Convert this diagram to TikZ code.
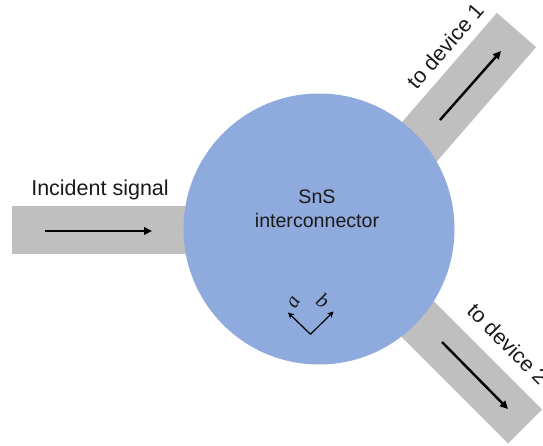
\documentclass[tikz,border=0pt]{standalone}
\usepackage{fontspec}
\setmainfont{Liberation Sans}
\newfontfamily\abfont{Liberation Serif}
\usetikzlibrary{arrows.meta}
\definecolor{bluec}{HTML}{8FAADC}
\definecolor{barg}{HTML}{BFBFBF}
\definecolor{txt}{HTML}{1A1A1A}
\begin{document}
\begin{tikzpicture}[x=1pt,y=-1pt,
  sig/.style={line width=2.4pt, black, -{Triangle[length=8pt,width=7.5pt]}},
  axis/.style={line width=1.2pt, black, -{Stealth[length=6pt,width=6pt]}},
  lbl/.style={font=\fontsize{21.5}{24}\selectfont, text=txt, inner sep=0pt},
  clbl/.style={font=\fontsize{19.6}{24}\selectfont, text=txt, inner sep=0pt},
  ablbl/.style={font=\abfont\itshape\fontsize{21}{21}\selectfont, text=txt, inner sep=0pt},
  bar/.style={fill=barg}]
\useasboundingbox (0,0) rectangle (543,446);
\clip (0,0) rectangle (543,446);
% bars (behind the circle)
\fill[bar] (12,206) rectangle (250,254);
\fill[bar] (496.9,12.9) -- (536.1,47.1) -- (404.9,198.1) -- (365.7,163.9) -- cycle;
\fill[bar] (542,409.5) -- (508,443.5) -- (366.6,302.1) -- (400.6,268.1) -- cycle;
% interconnector
\node[circle, fill=bluec, minimum size=271pt, inner sep=0pt] (circ) at (319,229) {};
\node[clbl, align=center] (sns) at (317,209) {SnS\\interconnector};
% labels
\node[lbl] (inc) at (100,190) {Incident signal};
\node[lbl, rotate=49] (dev1) at (445,46) {to device 1};
\node[lbl, rotate=-45] (dev2) at (508,344) {to device 2};
% signal arrows
\coordinate (i1) at (45,231);
\coordinate (i2) at (152,231);
\coordinate (u1) at (440,120);
\coordinate (u2) at (501,51);
\coordinate (l1) at (442,342);
\coordinate (l2) at (508,409);
\draw[sig] (i1) -- (i2);
\draw[sig] (u1) -- (u2);
\draw[sig] (l1) -- (l2);
% crystal axes
\coordinate (o) at (310.5,334.3);
\coordinate (ta) at (288,312.5);
\coordinate (tb) at (333.5,311.5);
\draw[axis] (o) -- (ta);
\draw[axis] (o) -- (tb);
\node[ablbl, rotate=60] (la) at (294,303) {a};
\node[ablbl, rotate=-35] (lb) at (323,301) {b};
\end{tikzpicture}
\end{document}
